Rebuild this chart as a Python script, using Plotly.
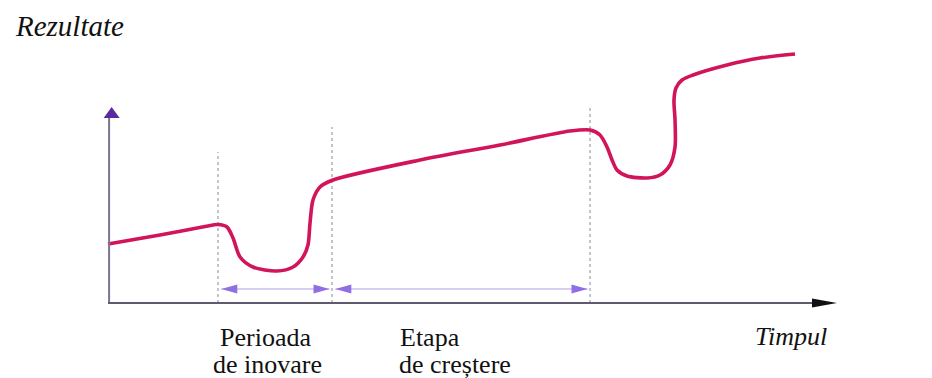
import plotly.graph_objects as go

# ---- data (time units on x, result units on y) ----
curve_t = [0.0, 7.13, 13.31, 15.09, 16.32, 17.15, 18.11, 19.89, 23.18, 25.38, 26.75, 27.43,
           27.71, 28.12, 29.08, 30.86, 42.80, 53.77, 63.37, 66.12, 67.49, 68.45, 69.14,
           69.82, 71.19, 73.94, 75.72, 77.09, 77.78, 77.78, 77.64, 77.91, 78.74, 80.25,
           84.91, 89.44, 94.24]
curve_r = [23.6, 27.2, 30.6, 31.4, 30.4, 26.0, 18.4, 14.4, 12.8, 14.4, 18.4, 23.2,
           32.0, 41.2, 46.4, 49.2, 57.2, 63.2, 68.8, 69.2, 67.2, 62.4, 57.2,
           53.2, 50.8, 50.0, 51.2, 55.2, 62.4, 73.2, 81.2, 86.0, 89.2, 91.2,
           95.2, 98.0, 99.6]

phase_bounds = [15.09, 30.73, 66.12]       # dotted separators
phase_tops = [60.4, 70.4, 78.4]
phase_names = [["Perioada", "de inovare"], ["Etapa", "de creștere"]]
y_label = "Rezultate"
x_label = "Timpul"

# ---- geometry helpers (page has an 8px body margin) ----
W, H = 924, 370
X0, X1 = -13.717, 113.03
Y0, Y1 = -30.0, 118.0
PX_X = W / (X1 - X0)
PX_Y = H / (Y1 - Y0)


def tri(tx, ty, direction, length, half):
    if direction == "right":
        bx = tx - length / PX_X
        pts = [(tx, ty), (bx, ty + half / PX_Y), (bx, ty - half / PX_Y)]
    elif direction == "left":
        bx = tx + length / PX_X
        pts = [(tx, ty), (bx, ty + half / PX_Y), (bx, ty - half / PX_Y)]
    else:  # up
        by = ty - length / PX_Y
        pts = [(tx, ty), (tx - half / PX_X, by), (tx + half / PX_X, by)]
    return "M " + " L ".join(f"{x:.3f},{y:.3f}" for x, y in pts) + " Z"


fig = go.Figure()
shapes = []

# dotted phase separators
for b, top in zip(phase_bounds, phase_tops):
    shapes.append(dict(type="line", x0=b, x1=b, y0=0, y1=top,
                       line=dict(color="#b4afbd", width=1.5, dash="dot"), layer="below"))

# axes
y_top = 78.4
x_tip = 100.0
shapes.append(dict(type="line", x0=0.15, x1=0.15, y0=0, y1=y_top - 11 / PX_Y,
                   line=dict(color="#7a7590", width=2)))
shapes.append(dict(type="line", x0=0, x1=x_tip - 20 / PX_X, y0=0, y1=0,
                   line=dict(color="#5f5a6e", width=2)))
shapes.append(dict(type="path", path=tri(0.5, y_top, "up", 11, 8),
                   fillcolor="#5b2a9e", line=dict(width=0)))
shapes.append(dict(type="path", path=tri(x_tip, 0, "right", 25, 4.5),
                   fillcolor="#111111", line=dict(width=0)))

# double arrows for phases
arrow_y = 5.6
spans = [(phase_bounds[0], phase_bounds[1]), (phase_bounds[1], phase_bounds[2])]
for a, b in spans:
    la, rb = a + 0.45, b - 0.35
    shapes.append(dict(type="line", x0=la, x1=rb, y0=arrow_y, y1=arrow_y,
                       line=dict(color="#b0a0e6", width=1)))
    shapes.append(dict(type="path", path=tri(la, arrow_y, "left", 16, 4.5),
                       fillcolor="#8f6fe3", line=dict(width=0)))
    shapes.append(dict(type="path", path=tri(rb, arrow_y, "right", 16, 4.5),
                       fillcolor="#8f6fe3", line=dict(width=0)))

# curve
fig.add_trace(go.Scatter(x=curve_t, y=curve_r, mode="lines",
                         line=dict(color="#d2145a", width=3.6, shape="spline", smoothing=0.8),
                         hoverinfo="skip", showlegend=False))

serif = "Liberation Serif"
ann = []
ann.append(dict(x=-13.1, y=111.0, xref="x", yref="y", text=f"<i>{y_label}</i>", showarrow=False,
                xanchor="left", yanchor="middle", font=dict(family=serif, size=29, color="#111")))
ann.append(dict(x=93.7, y=-13.4, xref="x", yref="y", text=f"<i>{x_label}</i>", showarrow=False,
                xanchor="center", yanchor="middle", font=dict(family=serif, size=26, color="#111")))
# phase labels
lab_font = dict(family=serif, size=26, color="#111")
ann.append(dict(x=21.6, y=-13.8, text=phase_names[0][0], showarrow=False, xanchor="center",
                yanchor="middle", font=lab_font))
ann.append(dict(x=21.9, y=-24.4, text=phase_names[0][1], showarrow=False, xanchor="center",
                yanchor="middle", font=lab_font))
ann.append(dict(x=39.8, y=-13.8, text=phase_names[1][0], showarrow=False, xanchor="left",
                yanchor="middle", font=lab_font))
ann.append(dict(x=39.6, y=-24.4, text=phase_names[1][1], showarrow=False, xanchor="left",
                yanchor="middle", font=lab_font))

fig.update_layout(
    width=W, height=H, margin=dict(l=0, r=0, t=0, b=0),
    paper_bgcolor="white", plot_bgcolor="white",
    xaxis=dict(range=[X0, X1], visible=False, fixedrange=True),
    yaxis=dict(range=[Y0, Y1], visible=False, fixedrange=True),
    shapes=shapes, annotations=ann, showlegend=False,
)

fig.write_html("out.html")
